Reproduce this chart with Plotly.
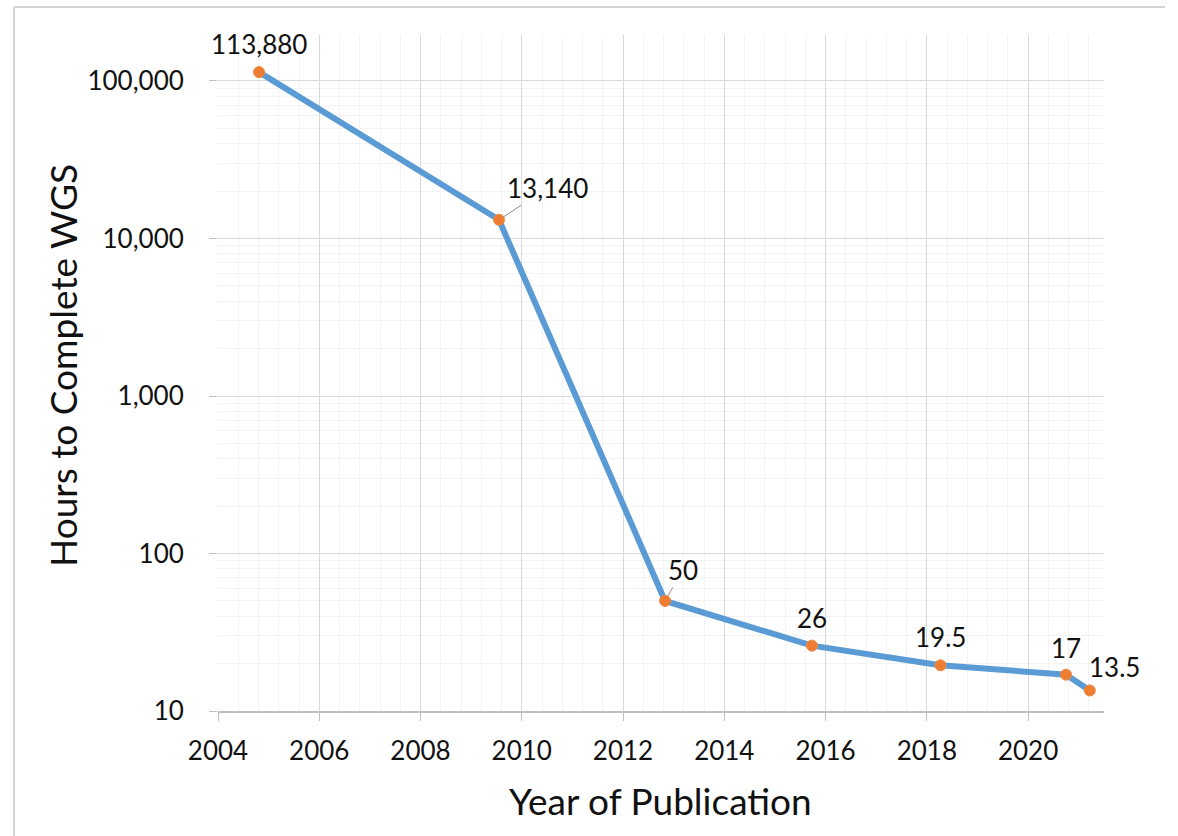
import math
import plotly.graph_objects as go

# Publication year (fractional) and hours needed to complete whole-genome sequencing
years = [2004.81, 2009.55, 2012.83, 2015.73, 2018.27, 2020.75, 2021.22]
hours = [113880, 13140, 50, 26, 19.5, 17, 13.5]

x_ticks = [2004, 2006, 2008, 2010, 2012, 2014, 2016, 2018, 2020]
y_ticks = [10, 100, 1000, 10000, 100000]
y_tick_text = ["10", "100", "1,000", "10,000", "100,000"]

W, H = 1178, 836
ML, MR, MT, MB = 218, 74, 35, 125
PW, PH = W - ML - MR, H - MT - MB

FONT = "Lato, 'Open Sans', sans-serif"
TXT = "#111111"


def fmt(v):
    return f"{v:,}" if float(v).is_integer() else f"{v}"


def px_to_paper(px, py):
    return (px - ML) / PW, (H - MB - py) / PH


# Minor log gridlines at 2..9 within each decade
y_minor = [m * 10 ** d for d in range(1, 6) for m in range(2, 10)]

fig = go.Figure()
fig.add_trace(go.Scatter(
    x=years, y=hours, mode="lines+markers",
    line=dict(color="#5b9bd5", width=6),
    marker=dict(color="#ed7d31", size=11, line=dict(color="#f0883e", width=1)),
    hoverinfo="x+y", showlegend=False,
))

# Data labels: (dx, dy) offsets in pixels; leader line for the crowded ones
label_offsets = [(0, 28, False), (49, -32, True), (18, -31, True),
                 (0, 28, False), (0, 28, False), (0, 27, False), (25, 23, False)]
annotations = []
for xv, yv, (dx, dy, leader) in zip(years, hours, label_offsets):
    base = dict(x=xv, y=math.log10(yv), xref="x", yref="y",
                text=fmt(yv), font=dict(family=FONT, size=26, color=TXT))
    if leader:
        base.update(showarrow=True, arrowhead=0, arrowwidth=1, arrowcolor="#8c8c8c",
                    ax=dx, ay=dy, standoff=5)
    else:
        base.update(showarrow=False, xshift=dx, yshift=dy,
                    xanchor="center", yanchor="middle")
    annotations.append(base)

# Axis titles
tx, ty = px_to_paper(62, 366)
annotations.append(dict(x=tx, y=ty, xref="paper", yref="paper", text="Hours to Complete WGS",
                        textangle=-90, showarrow=False, xanchor="center", yanchor="middle",
                        font=dict(family=FONT, size=37, color=TXT)))
tx, ty = px_to_paper(660, 801)
annotations.append(dict(x=tx, y=ty, xref="paper", yref="paper", text="Year of Publication",
                        showarrow=False, xanchor="center", yanchor="middle",
                        font=dict(family=FONT, size=37, color=TXT)))

# Outer chart frame (top and left edges)
x0, y0 = px_to_paper(14, 7)
x1, y1 = px_to_paper(1165, 840)
shapes = [
    dict(type="line", xref="paper", yref="paper", x0=x0, y0=y0, x1=x1, y1=y0,
         line=dict(color="#d4d4d4", width=2)),
    dict(type="line", xref="paper", yref="paper", x0=x0, y0=y0, x1=x0, y1=y1,
         line=dict(color="#d4d4d4", width=2)),
]

fig.update_layout(
    width=W, height=H,
    margin=dict(l=ML, r=MR, t=MT, b=MB, pad=0),
    paper_bgcolor="white", plot_bgcolor="white",
    annotations=annotations, shapes=shapes,
    xaxis=dict(
        range=[2004, 2021.5], tickvals=x_ticks,
        showgrid=True, gridcolor="#d9d9d9", gridwidth=1,
        minor=dict(dtick=0.4, tick0=2004, showgrid=True, gridcolor="#f3f3f3", ticks=""),
        showline=True, linecolor="#bfbfbf", linewidth=1.5,
        ticks="outside", ticklen=8, tickcolor="#bfbfbf",
        ticklabelstandoff=8,
        tickfont=dict(family=FONT, size=26, color=TXT),
        zeroline=False,
    ),
    yaxis=dict(
        type="log", range=[1, 5.292],
        tickvals=y_ticks, ticktext=y_tick_text,
        showgrid=True, gridcolor="#d9d9d9", gridwidth=1,
        minor=dict(tickvals=y_minor, showgrid=True, gridcolor="#f3f3f3", ticks=""),
        showline=False,
        ticks="outside", ticklen=8, tickcolor="#bfbfbf",
        ticklabelstandoff=20,
        tickfont=dict(family=FONT, size=26, color=TXT),
        zeroline=False,
    ),
)

fig.write_html("out.html")
